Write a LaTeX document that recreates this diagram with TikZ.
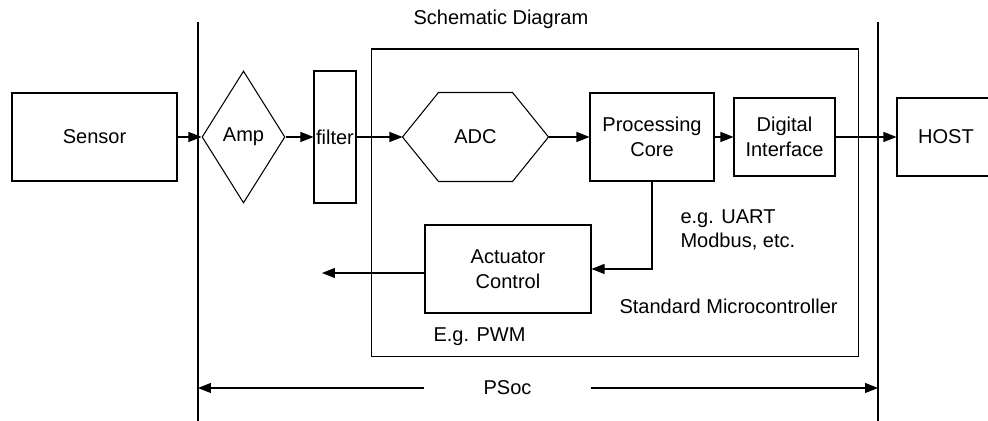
\documentclass[tikz,border=0pt]{standalone}
\usepackage{fontspec}
\setmainfont{Liberation Sans}
\usetikzlibrary{shapes.geometric,arrows.meta,calc}

\begin{document}
\begin{tikzpicture}[x=0.02cm, y=-0.02cm, line width=0.6pt,
    every node/.style={font=\fontsize{11.4}{14.2}\selectfont, inner sep=0pt},
    block/.style={rectangle, draw, align=center},
    sig/.style={-{Triangle[length=0.26cm, width=0.2cm]}}]
    \useasboundingbox (0,0) rectangle (988,421);

    % PSoc borders
    \coordinate (lt) at (198,22);
    \coordinate (lb) at (198,421);
    \coordinate (rt) at (878,22);
    \coordinate (rb) at (878,421);
    \draw (lt) -- (lb);
    \draw (rt) -- (rb);

    % Signal chain
    \node[block, minimum width=3.3cm, minimum height=1.76cm] (sensor) at (94.5,137) {Sensor};
    \node[diamond, draw, minimum width=1.66cm, minimum height=2.64cm] (amp) at (243.5,137) {Amp};
    \node[block, minimum width=0.84cm, minimum height=2.64cm] (filter) at (335,137) {filter};
    \node[block, minimum width=9.76cm, minimum height=6.16cm] (mcu) at (615,203) {};
    \node[minimum width=2.9cm, minimum height=1.76cm] (adc) at (475.5,137) {ADC};
    \draw (adc.west) -- ($(adc.north west)+(36,0)$) -- ($(adc.north east)+(-36,0)$)
        -- (adc.east) -- ($(adc.south east)+(-36,0)$) -- ($(adc.south west)+(36,0)$) -- cycle;
    \node[block, minimum width=2.48cm, minimum height=1.76cm] (core) at (652,137) {Processing\\Core};
    \node[block, minimum width=2.02cm, minimum height=1.56cm] (dif) at (784.5,137) {Digital\\Interface};
    \node[block, minimum width=1.96cm, minimum height=1.56cm] (host) at (946,137) {HOST};
    \node[block, minimum width=3.32cm, minimum height=1.76cm] (act) at (508,269) {Actuator\\Control};

    % Labels
    \node[anchor=base west] (title) at (413,25) {Schematic Diagram};
    \node[anchor=base west] (bus1) at (680,224) {e.g. UART};
    \node[anchor=base west] (bus2) at (680,248) {Modbus, etc.};
    \node[anchor=base west] (mcutext) at (619,314) {Standard Microcontroller};
    \node[anchor=base west] (pwm) at (433,342) {E.g. PWM};
    \node[minimum width=3.3cm] (psoc) at (507.5,388) {PSoc};

    % Connectors
    \draw[sig] (sensor.east) -- (amp.west);
    \draw[sig] (amp.east) -- (filter.west);
    \draw[sig] (filter.east) -- (adc.west);
    \draw[sig] (adc.east) -- (core.west);
    \draw[sig] (core.east) -- (dif.west);
    \draw[sig] (dif.east) -- (host.west);
    \draw[sig] (core.south) |- (act.east);
    \coordinate (actout) at (322,273);
    \draw[sig] (act.west |- actout) -- (actout);
    \draw[sig] (psoc.west) -- (lb |- psoc);
    \draw[sig] (psoc.east) -- (rb |- psoc);
\end{tikzpicture}
\end{document}
